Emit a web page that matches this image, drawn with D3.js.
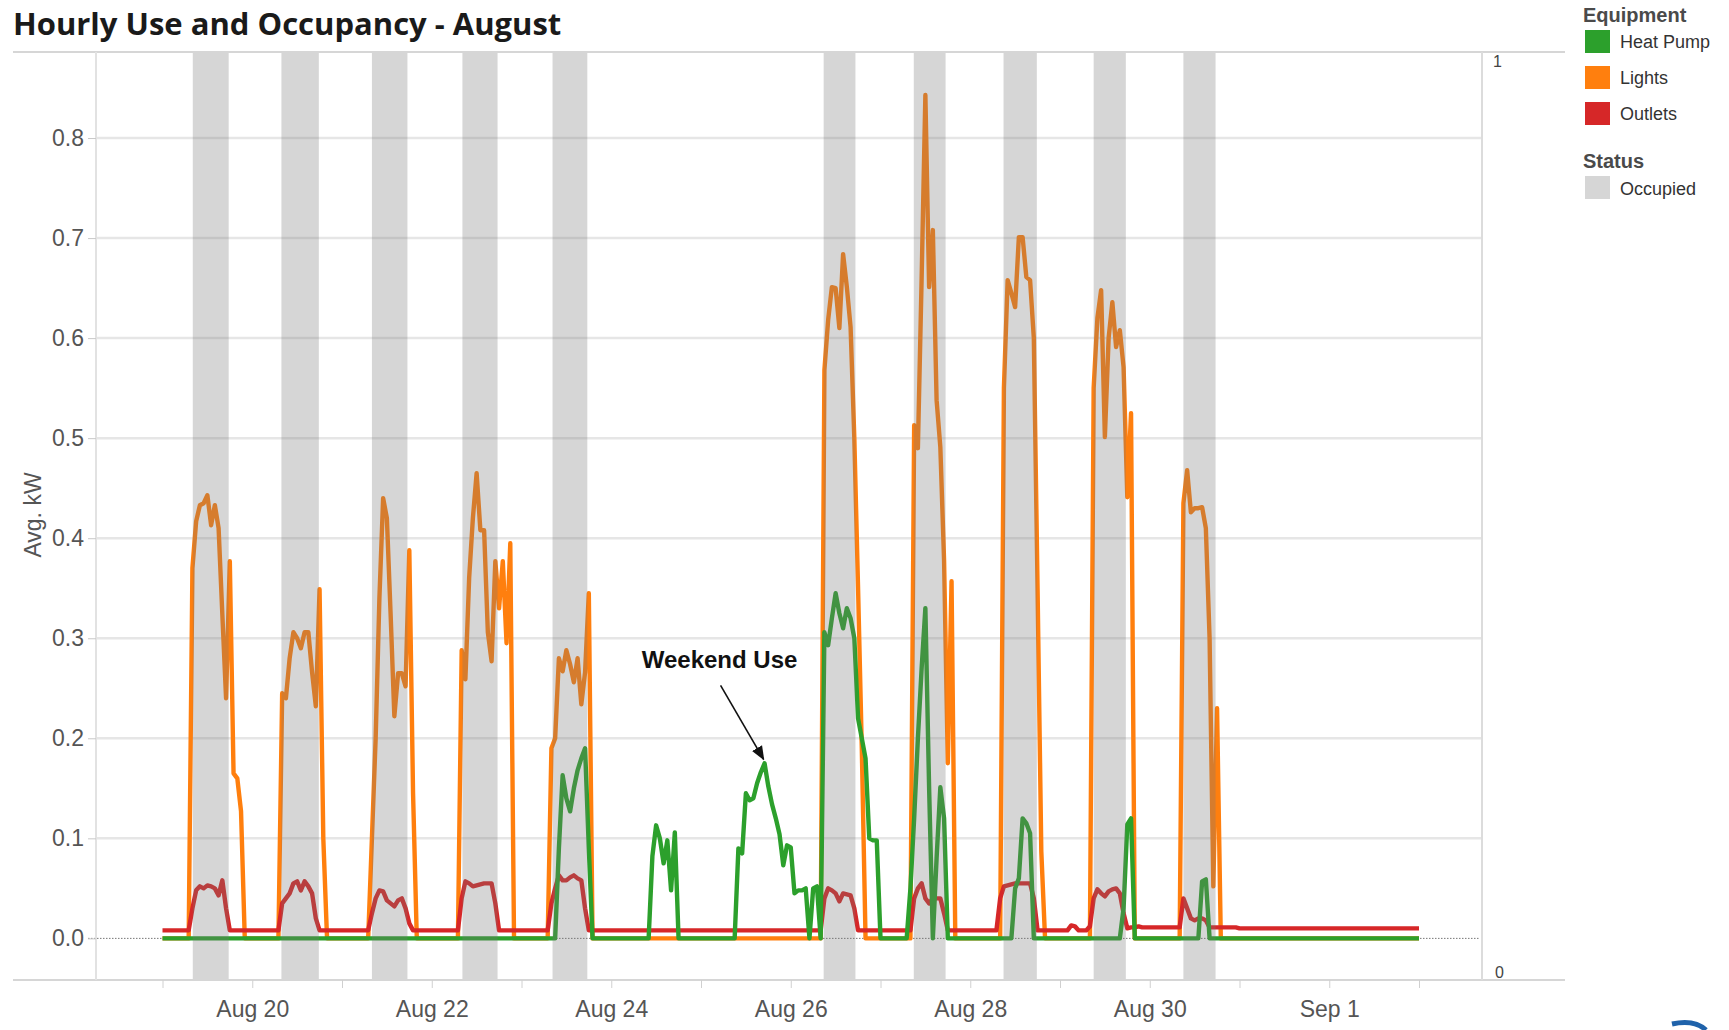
<!DOCTYPE html>
<html>
<head>
<meta charset="utf-8">
<script src="https://cdn.jsdelivr.net/npm/d3@7"></script>
<style>
  body { margin: 0; background: #fff; }
  svg { display: block; font-family: "Liberation Sans", Arial, sans-serif; }
</style>
</head>
<body>
<svg id="chart" width="1729" height="1030"></svg>
<script>
// days shown (hourly readings, Aug 19 - Sep 1 2013)
const dayLabels = ["2013-08-19", "2013-08-20", "2013-08-21", "2013-08-22", "2013-08-23",
  "2013-08-24", "2013-08-25", "2013-08-26", "2013-08-27", "2013-08-28",
  "2013-08-29", "2013-08-30", "2013-08-31", "2013-09-01"];

// night-time level of each series, per day
const lightsBase = [0, 0, 0, 0, 0, 0, 0, 0, 0, 0, 0, 0, 0, 0];
const heatPumpBase = [0, 0, 0, 0, 0, 0, 0, 0, 0, 0, 0, 0, 0, 0];
const outletsBase = [0.008, 0.008, 0.008, 0.008, 0.008, 0.008, 0.008, 0.008, 0.008, 0.008, 0.008, 0.011, 0.010, 0.010];

// active periods: [day index, first hour, hourly kW values]
const lightsSegments = [
  [0, 7, [0, 0.37, 0.417, 0.433, 0.435, 0.443, 0.413, 0.433, 0.41, 0.324, 0.24, 0.377, 0.165, 0.16, 0.127, 0]],
  [1, 7, [0, 0.245, 0.24, 0.28, 0.306, 0.3, 0.29, 0.306, 0.306, 0.266, 0.232, 0.349, 0.1, 0]],
  [2, 7, [0, 0.1, 0.2, 0.34, 0.44, 0.42, 0.324, 0.222, 0.265, 0.265, 0.252, 0.388, 0.145, 0]],
  [3, 7, [0, 0.288, 0.259, 0.36, 0.42, 0.465, 0.408, 0.408, 0.306, 0.277, 0.377, 0.33, 0.377, 0.295, 0.395, 0]],
  [4, 7, [0, 0.19, 0.2, 0.28, 0.267, 0.288, 0.274, 0.256, 0.28, 0.234, 0.266, 0.345, 0]],
  [7, 8, [0, 0.568, 0.618, 0.651, 0.65, 0.61, 0.684, 0.651, 0.611, 0.5, 0.35, 0.19, 0]],
  [8, 8, [0, 0.513, 0.49, 0.66, 0.843, 0.651, 0.708, 0.538, 0.491, 0.378, 0.175, 0.357, 0]],
  [9, 8, [0, 0.55, 0.658, 0.645, 0.631, 0.701, 0.701, 0.661, 0.658, 0.6, 0.35, 0.087, 0]],
  [10, 8, [0, 0.55, 0.62, 0.648, 0.501, 0.6, 0.636, 0.591, 0.608, 0.571, 0.441, 0.525, 0]],
  [11, 8, [0, 0.435, 0.468, 0.426, 0.43, 0.43, 0.431, 0.41, 0.3, 0.052, 0.23, 0]]
];

const heatPumpSegments = [
  [4, 9, [0, 0.09, 0.163, 0.14, 0.127, 0.15, 0.168, 0.18, 0.19, 0.09, 0]],
  [5, 10, [0, 0.082, 0.113, 0.1, 0.075, 0.098, 0.048, 0.106, 0]],
  [6, 9, [0, 0.09, 0.085, 0.145, 0.138, 0.14, 0.155, 0.166, 0.175, 0.152, 0.134, 0.12, 0.104, 0.073, 0.093]],
  [7, 0, [0.091, 0.045, 0.048, 0.048, 0.05, 0, 0.05, 0.052, 0, 0.306, 0.293, 0.32, 0.345, 0.325, 0.31, 0.33, 0.32, 0.3, 0.22, 0.2, 0.18, 0.1, 0.098, 0.098]],
  [8, 7, [0, 0.05, 0.12, 0.2, 0.27, 0.33, 0.15, 0, 0.08, 0.151, 0.12, 0]],
  [9, 11, [0, 0.05, 0.06, 0.12, 0.115, 0.105, 0]],
  [10, 16, [0, 0.03, 0.114, 0.12, 0]],
  [11, 13, [0, 0.057, 0.059, 0]]
];

const outletsSegments = [
  [0, 7, [0.008, 0.03, 0.048, 0.052, 0.05, 0.053, 0.052, 0.05, 0.043, 0.058, 0.03, 0.008]],
  [1, 7, [0.008, 0.035, 0.04, 0.045, 0.055, 0.057, 0.048, 0.057, 0.052, 0.045, 0.02, 0.008]],
  [2, 7, [0.008, 0.025, 0.04, 0.048, 0.047, 0.038, 0.035, 0.032, 0.038, 0.04, 0.03, 0.015, 0.008]],
  [3, 7, [0.008, 0.04, 0.057, 0.055, 0.052, 0.053, 0.054, 0.055, 0.055, 0.055, 0.035, 0.008]],
  [4, 7, [0.008, 0.035, 0.05, 0.063, 0.058, 0.058, 0.061, 0.063, 0.06, 0.058, 0.03, 0.008]],
  [7, 8, [0.008, 0.04, 0.05, 0.048, 0.045, 0.037, 0.045, 0.044, 0.043, 0.03, 0.008]],
  [8, 8, [0.008, 0.04, 0.05, 0.055, 0.04, 0.035, 0.04, 0.04, 0.04, 0.025, 0.008]],
  [9, 7, [0.008, 0.04, 0.052, 0.053, 0.054, 0.055, 0.055, 0.055, 0.055, 0.055, 0.04, 0.008]],
  [10, 2, [0.008, 0.013, 0.012, 0.008, 0.008, 0.008, 0.012, 0.04, 0.049, 0.045, 0.042, 0.047, 0.049, 0.05, 0.045, 0.025, 0.01, 0.011, 0.011, 0.012, 0.011, 0.011]],
  [11, 8, [0.011, 0.04, 0.03, 0.02, 0.018, 0.02, 0.02, 0.018, 0.011]]
];

// occupied periods (weekdays), hours of the day
const occupiedDays = [0, 1, 2, 3, 4, 7, 8, 9, 10, 11];
const occupiedStart = [8.1, 7.8, 8.0, 8.2, 8.3, 8.8, 8.9, 8.9, 9.0, 9.0];
const occupiedEnd = [17.7, 17.8, 17.5, 17.6, 17.6, 17.3, 17.4, 17.8, 17.6, 17.6];

const yTicks = [0, 0.1, 0.2, 0.3, 0.4, 0.5, 0.6, 0.7, 0.8];
const xLabelDays = ["2013-08-20", "2013-08-22", "2013-08-24", "2013-08-26", "2013-08-28", "2013-08-30", "2013-09-01"];

const equipment = ["Heat Pump", "Lights", "Outlets"];
const equipColors = ["#2ca02c", "#ff7f0e", "#d62728"];

const parse = d3.timeParse("%Y-%m-%d");
const dayDates = dayLabels.map(parse);
const at = (di, h) => new Date(dayDates[di].getTime() + h * 3600e3);

function buildSeries(base, segments) {
  const pts = [];
  dayDates.forEach((d, i) => {
    for (let h = 0; h < 24; h++) pts.push({t: at(i, h), v: base[i]});
  });
  segments.forEach(([di, h0, vals]) => {
    vals.forEach((v, k) => { pts[di * 24 + h0 + k].v = v; });
  });
  pts.push({t: at(dayDates.length - 1, 24), v: base[base.length - 1]});
  return pts;
}

const lights = buildSeries(lightsBase, lightsSegments);
const heatPump = buildSeries(heatPumpBase, heatPumpSegments);
const outlets = buildSeries(outletsBase, outletsSegments);

const svg = d3.select("#chart");

const plotLeft = 96, plotRight = 1482, plotTop = 52, plotBottom = 980;

const x = d3.scaleTime()
  .domain([dayDates[0], at(dayDates.length - 1, 24)])
  .range([162.5, 1419]);
const y = d3.scaleLinear().domain([-0.0416, 0.886]).range([plotBottom, plotTop]);
const occY = d3.scaleLinear().domain([0, 1]).range([plotBottom, plotTop]);

// title
svg.append("text")
  .attr("x", 13).attr("y", 35)
  .attr("font-family", "'Open Sans', sans-serif")
  .attr("font-weight", 700)
  .attr("font-size", 31)
  .attr("fill", "#1a1a1a")
  .text("Hourly Use and Occupancy - August");

// gridlines
svg.append("g")
  .selectAll("line")
  .data(yTicks.filter(d => d > 0))
  .enter().append("line")
  .attr("x1", plotLeft).attr("x2", plotRight)
  .attr("y1", d => y(d)).attr("y2", d => y(d))
  .attr("stroke", "#e6e6e6")
  .attr("stroke-width", 2.5);

// zero line
svg.append("line")
  .attr("x1", 88).attr("x2", 1480)
  .attr("y1", y(0)).attr("y2", y(0))
  .attr("stroke", "#777")
  .attr("stroke-width", 1)
  .attr("stroke-dasharray", "1.5,1.5");

// lines: lights under outlets under heat pump
const line = d3.line().x(d => x(d.t)).y(d => y(d.v));
[[lights, equipColors[1]], [outlets, equipColors[2]], [heatPump, equipColors[0]]].forEach(([data, color]) => {
  svg.append("path")
    .datum(data)
    .attr("d", line)
    .attr("fill", "none")
    .attr("stroke", color)
    .attr("stroke-width", 4.4)
    .attr("stroke-linejoin", "round");
});

// occupancy bars (translucent, on top of the lines)
svg.append("g")
  .selectAll("rect")
  .data(occupiedDays.map((di, i) => ({s: at(di, occupiedStart[i]), e: at(di, occupiedEnd[i])})))
  .enter().append("rect")
  .attr("x", d => x(d.s))
  .attr("width", d => x(d.e) - x(d.s))
  .attr("y", occY(1))
  .attr("height", occY(0) - occY(1))
  .attr("fill", "#777")
  .attr("fill-opacity", 0.3);

// frame lines
const frame = svg.append("g").attr("stroke", "#d6d6d6").attr("stroke-width", 2);
frame.append("line").attr("x1", 13).attr("x2", 1565).attr("y1", plotTop).attr("y2", plotTop);
frame.append("line").attr("x1", 13).attr("x2", 1565).attr("y1", plotBottom).attr("y2", plotBottom);
frame.append("line").attr("x1", plotLeft).attr("x2", plotLeft).attr("y1", plotTop).attr("y2", plotBottom).attr("stroke", "#e2e2e2");
frame.append("line").attr("x1", plotRight).attr("x2", plotRight).attr("y1", plotTop).attr("y2", plotBottom).attr("stroke", "#dcdcdc");

// y axis
const yAxis = svg.append("g")
  .attr("transform", `translate(${plotLeft},0)`)
  .call(d3.axisLeft(y).tickValues(yTicks).tickFormat(d3.format(".1f")).tickSize(8).tickPadding(4));
yAxis.select(".domain").remove();
yAxis.selectAll("line").attr("stroke", "#c8c8c8");
yAxis.selectAll("text").attr("font-size", 23).attr("fill", "#555").attr("font-family", "'Liberation Sans', Arial, sans-serif");

svg.append("text")
  .attr("transform", "translate(41,515) rotate(-90)")
  .attr("text-anchor", "middle")
  .attr("font-size", 23)
  .attr("fill", "#555")
  .text("Avg. kW");

// x axis
const fmt = d3.timeFormat("%b %-d");
const xLabelSet = new Set(xLabelDays);
const dayKey = d3.timeFormat("%Y-%m-%d");
const xAxis = svg.append("g")
  .attr("transform", `translate(0,${plotBottom})`)
  .call(d3.axisBottom(x).ticks(d3.timeDay.every(1)).tickSize(8).tickPadding(13)
    .tickFormat(d => xLabelSet.has(dayKey(d)) ? fmt(d) : ""));
xAxis.select(".domain").remove();
xAxis.selectAll("line").attr("stroke", "#d0d0d0");
xAxis.selectAll("text").attr("font-size", 23).attr("fill", "#555").attr("font-family", "'Liberation Sans', Arial, sans-serif");

// right occupancy axis end labels
svg.append("text").attr("x", 1493).attr("y", occY(1) + 15).attr("font-size", 16).attr("fill", "#444").text("1");
svg.append("text").attr("x", 1495).attr("y", occY(0) - 2).attr("font-size", 16).attr("fill", "#444").text("0");

// annotation: weekend heat pump peak
const weekendPeak = heatPump.slice(5 * 24, 7 * 24).reduce((a, b) => b.v > a.v ? b : a);
const px = x(weekendPeak.t), py = y(weekendPeak.v);
svg.append("defs").append("marker")
  .attr("id", "arrow").attr("viewBox", "0 0 10 10")
  .attr("refX", 9).attr("refY", 5)
  .attr("markerWidth", 9).attr("markerHeight", 9)
  .attr("orient", "auto")
  .append("path").attr("d", "M0,1 L10,5 L0,9 Z").attr("fill", "#111");
svg.append("line")
  .attr("x1", px - 44).attr("y1", py - 78)
  .attr("x2", px - 1).attr("y2", py - 4)
  .attr("stroke", "#111").attr("stroke-width", 1.6)
  .attr("marker-end", "url(#arrow)");
svg.append("text")
  .attr("x", px - 45).attr("y", py - 95)
  .attr("text-anchor", "middle")
  .attr("font-weight", 700)
  .attr("font-size", 24)
  .attr("fill", "#111")
  .text("Weekend Use");

// legend
const legend = svg.append("g");
legend.append("text").attr("x", 1583).attr("y", 22)
  .attr("font-weight", 700).attr("font-size", 20).attr("fill", "#4a4a4a").text("Equipment");
equipment.forEach((name, i) => {
  const by = 48 + i * 36;
  legend.append("rect").attr("x", 1585).attr("y", by - 18).attr("width", 25).attr("height", 23).attr("fill", equipColors[i]);
  legend.append("text").attr("x", 1620).attr("y", by).attr("font-size", 18).attr("fill", "#333").text(name);
});
legend.append("text").attr("x", 1583).attr("y", 168)
  .attr("font-weight", 700).attr("font-size", 20).attr("fill", "#4a4a4a").text("Status");
legend.append("rect").attr("x", 1585).attr("y", 176).attr("width", 25).attr("height", 23).attr("fill", "#d6d6d6");
legend.append("text").attr("x", 1620).attr("y", 195).attr("font-size", 18).attr("fill", "#333").text("Occupied");

// corner logo fragment
svg.append("path")
  .attr("d", "M1672,1024 Q1694,1019 1706,1030")
  .attr("fill", "none").attr("stroke", "#1f62aa").attr("stroke-width", 5);
</script>
</body>
</html>
